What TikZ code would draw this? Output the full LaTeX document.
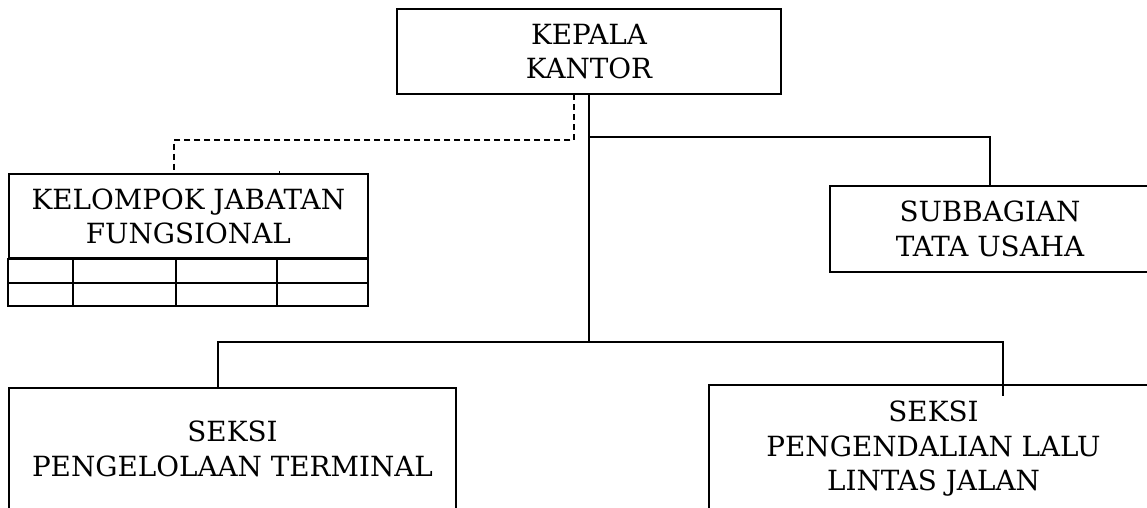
\documentclass[tikz,border=0pt]{standalone}
\usepackage{fontspec}
\setmainfont{DejaVu Serif}
\begin{document}
\begin{tikzpicture}[x=1pt,y=-1pt,
  line width=1.8pt,
  box/.style={draw, rectangle, inner sep=0pt, align=center,
    font=\fontsize{27.8}{34.5}\selectfont},
  dashline/.style={dash pattern=on 6pt off 4pt},
]
\useasboundingbox (0,0) rectangle (1147,507);
\clip (0,0) rectangle (1147,507);

% boxes
\node[box, minimum width=384pt, minimum height=85pt] (kk) at (589,51.5) {KEPALA\\KANTOR};
\node[box, minimum width=358.7pt, minimum height=84.3pt] (kjf) at (188.35,216.15) {KELOMPOK JABATAN\\FUNGSIONAL};
\node[box, minimum width=320pt, minimum height=86pt] (sb) at (990,229) {SUBBAGIAN\\TATA USAHA};
\node[box, minimum width=447pt, minimum height=122pt] (spt) at (232.5,449) {SEKSI\\PENGELOLAAN TERMINAL};
\node[box, minimum width=449pt, minimum height=128pt] (spl) at (933.5,449) {SEKSI\\PENGENDALIAN LALU\\LINTAS JALAN};

% grid below Kelompok Jabatan Fungsional
\draw (kjf.south west) rectangle (367.7,306);
\draw (9,282.7) -- (367.7,282.7);
\draw (73.3,258.3) -- (73.3,306);
\draw (175.7,258.3) -- (175.7,306);
\draw (277.3,258.3) -- (277.3,306);
\draw[line width=1pt] (279,174) -- (279,171);

% connectors
\coordinate (j1) at (589,341.7);
\coordinate (j2) at (589,136.7);
\coordinate (dl) at (218,388);
\coordinate (dr) at (1003,396);
\coordinate (d1) at (574.3,94);
\coordinate (d2) at (174,174);

\draw (kk.south) -- (j1);
\draw (j2) -| (sb.north);
\draw (dl) |- (j1) -| (dr);
\draw[dashline] (d1) -- ++(0,46) -| (d2);
\end{tikzpicture}
\end{document}
